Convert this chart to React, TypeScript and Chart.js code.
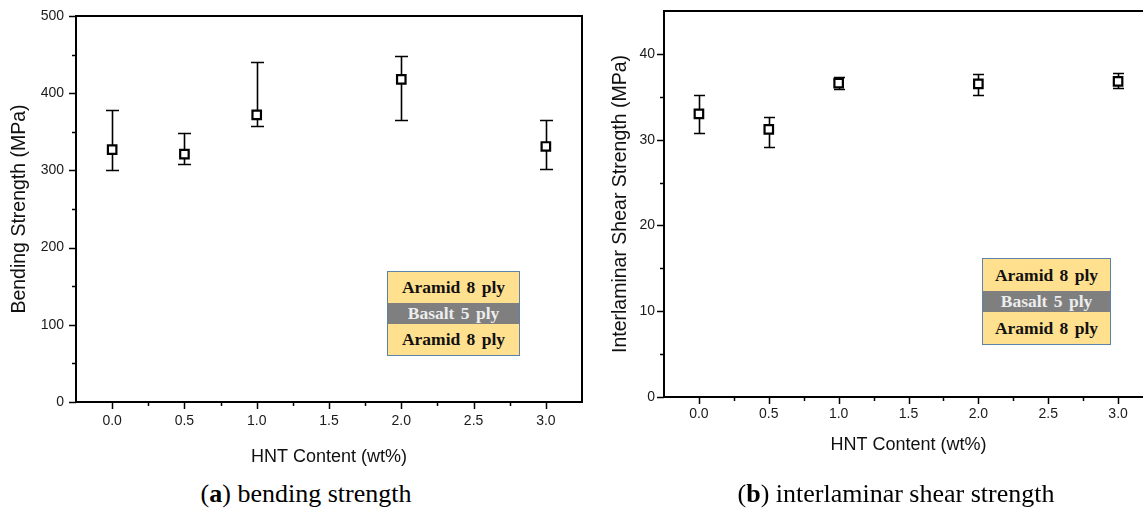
import React, { useEffect, useRef } from "react";
import { Chart, registerables } from "chart.js";

Chart.register(...registerables);

// ---------- data ----------
const hntContent = [0, 0.5, 1.0, 2.0, 3.0];

const bendingMean = [327, 321, 372, 418, 331];
const bendingUpper = [378, 349, 440, 448, 365];
const bendingLower = [300, 308, 358, 365, 302];

const ilssMean = [33.0, 31.2, 36.6, 36.5, 36.8];
const ilssUpper = [35.2, 32.7, 37.3, 37.7, 37.8];
const ilssLower = [30.8, 29.2, 35.9, 35.2, 36.0];

const xMajorLabels = ["0.0", "0.5", "1.0", "1.5", "2.0", "2.5", "3.0"];
const bendingMajorLabels = ["0", "100", "200", "300", "400", "500"];
const ilssMajorLabels = ["0", "10", "20", "30", "40"];

const xTitle = "HNT Content (wt%)";
const bendingTitle = "Bending Strength (MPa)";
const ilssTitle = "Interlaminar Shear Strength (MPa)";
const captionA = "bending strength";
const captionB = "interlaminar shear strength";
const layerTop = "Aramid 8 ply";
const layerMid = "Basalt 5 ply";
const layerBottom = "Aramid 8 ply";

const SANS = "'Liberation Sans', Arial, sans-serif";
const SERIF = "'Liberation Serif', 'Times New Roman', serif";

function steps(min: number, max: number, step: number) {
  const out: number[] = [];
  const n = Math.round((max - min) / step);
  for (let i = 0; i <= n; i++) out.push(Math.round((min + i * step) * 1000) / 1000);
  return out;
}

function labelFor(value: number, labels: string[]) {
  const v = Math.round(value * 1000) / 1000;
  const hit = labels.find((l) => Math.abs(parseFloat(l) - v) < 1e-6);
  return hit === undefined ? "" : hit;
}

type Cfg = {
  means: number[];
  lower: number[];
  upper: number[];
  yMin: number;
  yMax: number;
  yStep: number;
  yLabels: string[];
  yTitle: string;
  padding: { top: number; right: number; left: number; bottom: number };
  yWidth: number;
  xHeight: number;
  yTitlePad: number;
  xTitlePad: number;
  xTickPad: number;
  yTickPad: number;
  capHalf: number;
  drawRight: boolean;
};

function makePlugin(cfg: Cfg) {
  return {
    id: "errorsAndFrame",
    beforeDatasetsDraw(chart: any) {
      const { ctx, scales } = chart;
      const xs = scales.x;
      const ys = scales.y;
      ctx.save();
      ctx.strokeStyle = "#000";
      ctx.lineWidth = 1.6;
      hntContent.forEach((xv, i) => {
        const px = Math.round(xs.getPixelForValue(xv)) + 0.5;
        const pt = Math.round(ys.getPixelForValue(cfg.upper[i])) + 0.5;
        const pb = Math.round(ys.getPixelForValue(cfg.lower[i])) + 0.5;
        ctx.beginPath();
        ctx.moveTo(px, pt);
        ctx.lineTo(px, pb);
        ctx.moveTo(px - cfg.capHalf, pt);
        ctx.lineTo(px + cfg.capHalf, pt);
        ctx.moveTo(px - cfg.capHalf, pb);
        ctx.lineTo(px + cfg.capHalf, pb);
        ctx.stroke();
      });
      ctx.restore();
    },
    afterDraw(chart: any) {
      const { ctx, chartArea, scales } = chart;
      const { left, right, top, bottom } = chartArea;
      ctx.save();
      ctx.strokeStyle = "#000";
      ctx.lineWidth = 2;
      // frame
      ctx.beginPath();
      ctx.moveTo(left, bottom);
      ctx.lineTo(left, top);
      ctx.lineTo(right, top);
      if (cfg.drawRight) ctx.lineTo(right, bottom);
      ctx.lineTo(left, bottom);
      ctx.stroke();
      // ticks (major 7px, minor 4px), pointing outwards
      ctx.lineWidth = 1.5;
      scales.x.ticks.forEach((t: any) => {
        const major = labelFor(t.value, xMajorLabels) !== "";
        const px = Math.round(scales.x.getPixelForValue(t.value)) + 0.5;
        if (px <= left + 1 || px >= right - 1) return;
        ctx.beginPath();
        ctx.moveTo(px, bottom);
        ctx.lineTo(px, bottom + (major ? 7 : 4));
        ctx.stroke();
      });
      scales.y.ticks.forEach((t: any) => {
        const major = labelFor(t.value, cfg.yLabels) !== "";
        const py = Math.round(scales.y.getPixelForValue(t.value)) + 0.5;
        if (py <= top + 1 && !major) return;
        ctx.beginPath();
        ctx.moveTo(left, py);
        ctx.lineTo(left - (major ? 7 : 4), py);
        ctx.stroke();
      });
      ctx.restore();
    },
  };
}

function buildConfig(cfg: Cfg): any {
  return {
    type: "scatter",
    data: {
      datasets: [
        {
          data: hntContent.map((x, i) => ({ x, y: cfg.means[i] })),
          pointStyle: "rect",
          pointRadius: 6,
          pointBorderWidth: 2.2,
          pointBorderColor: "#000",
          pointBackgroundColor: "#fff",
          showLine: false,
        },
      ],
    },
    options: {
      responsive: false,
      devicePixelRatio: 1,
      animation: false,
      events: [],
      layout: { padding: cfg.padding },
      plugins: { legend: { display: false }, tooltip: { enabled: false } },
      scales: {
        x: {
          type: "linear",
          min: -0.25,
          max: 3.25,
          afterBuildTicks: (s: any) => {
            s.ticks = steps(-0.25, 3.25, 0.25).map((v) => ({ value: v }));
          },
          afterFit: (s: any) => {
            s.height = cfg.xHeight;
          },
          border: { display: false },
          grid: {
            drawOnChartArea: false,
            drawTicks: true,
            tickLength: 7,
            tickColor: "rgba(0,0,0,0)",
          },
          ticks: {
            autoSkip: false,
            maxRotation: 0,
            padding: cfg.xTickPad,
            color: "#1a1a1a",
            font: { family: SANS, size: 14 },
            callback: (v: number) => labelFor(v, xMajorLabels),
          },
          title: {
            display: true,
            text: xTitle,
            color: "#111",
            font: { family: SANS, size: 18 },
            padding: { top: 0, bottom: cfg.xTitlePad },
          },
        },
        y: {
          type: "linear",
          min: cfg.yMin,
          max: cfg.yMax,
          afterBuildTicks: (s: any) => {
            s.ticks = steps(cfg.yMin, cfg.yMax, cfg.yStep).map((v) => ({ value: v }));
          },
          afterFit: (s: any) => {
            s.width = cfg.yWidth;
          },
          border: { display: false },
          grid: {
            drawOnChartArea: false,
            drawTicks: true,
            tickLength: 7,
            tickColor: "rgba(0,0,0,0)",
          },
          ticks: {
            autoSkip: false,
            padding: cfg.yTickPad,
            color: "#1a1a1a",
            font: { family: SANS, size: 14 },
            callback: (v: number) => labelFor(v, cfg.yLabels),
          },
          title: {
            display: true,
            text: cfg.yTitle,
            color: "#111",
            font: { family: SANS, size: 19.5 },
            padding: { top: cfg.yTitlePad, bottom: 0 },
          },
        },
      },
    },
    plugins: [makePlugin(cfg)],
  };
}

const leftCfg: Cfg = {
  means: bendingMean,
  lower: bendingLower,
  upper: bendingUpper,
  yMin: 0,
  yMax: 500,
  yStep: 50,
  yLabels: bendingMajorLabels,
  yTitle: bendingTitle,
  padding: { top: 16, right: 18, left: 0, bottom: 0 },
  yWidth: 76,
  xHeight: 68,
  yTitlePad: 8,
  xTitlePad: 2,
  xTickPad: 4,
  yTickPad: 5,
  capHalf: 6.5,
  drawRight: true,
};

const rightCfg: Cfg = {
  means: ilssMean,
  lower: ilssLower,
  upper: ilssUpper,
  yMin: 0,
  yMax: 45,
  yStep: 5,
  yLabels: ilssMajorLabels,
  yTitle: ilssTitle,
  padding: { top: 11, right: 27, left: 0, bottom: 0 },
  yWidth: 84,
  xHeight: 73,
  yTitlePad: 29,
  xTitlePad: 14,
  xTickPad: 2,
  yTickPad: 2,
  capHalf: 5.5,
  drawRight: true,
};

function ChartCanvas({ cfg, left, width, height }: { cfg: Cfg; left: number; width: number; height: number }) {
  const ref = useRef<HTMLCanvasElement | null>(null);
  useEffect(() => {
    if (!ref.current) return;
    const chart = new Chart(ref.current, buildConfig(cfg));
    return () => chart.destroy();
  }, [cfg]);
  return (
    <canvas
      ref={ref}
      width={width}
      height={height}
      style={{ position: "absolute", left, top: 0, width, height }}
    />
  );
}

function LayerBox({ left, top, width, rowH, midH }: { left: number; top: number; width: number; rowH: number; midH: number }) {
  const row = (bg: string, color: string, h: number, text: string) => (
    <div
      style={{
        font: `bold 17.5px ${SERIF}`,
        background: bg,
        color,
        height: h,
        lineHeight: h + "px",
        textAlign: "center",
        overflow: "hidden",
        whiteSpace: "nowrap",
        wordSpacing: 2,
      }}
    >
      {text}
    </div>
  );
  return (
    <div
      style={{
        position: "absolute",
        left,
        top,
        width,
        boxSizing: "border-box",
        border: "1.5px solid #5B84A8",
      }}
    >
      {row("#FFE08E", "#111", rowH, layerTop)}
      {row("#7F7F7F", "#EDEDED", midH, layerMid)}
      {row("#FFE08E", "#111", rowH, layerBottom)}
    </div>
  );
}

function Caption({ cx, letter, text }: { cx: number; letter: string; text: string }) {
  return (
    <div
      style={{
        font: `26px ${SERIF}`,
        position: "absolute",
        left: cx - 250,
        width: 500,
        top: 481,
        textAlign: "center",
        lineHeight: "26px",
        color: "#000",
        whiteSpace: "nowrap",
      }}
    >
      (<b>{letter}</b>) {text}
    </div>
  );
}

export default function App() {
  return (
    <div
      style={{
        position: "fixed",
        left: 0,
        top: 0,
        width: 1143,
        height: 508,
        overflow: "hidden",
        background: "#fff",
      }}
    >
      <ChartCanvas cfg={leftCfg} left={0} width={600} height={470} />
      <ChartCanvas cfg={rightCfg} left={580} width={600} height={470} />
      <LayerBox left={387} top={271} width={133} rowH={31} midH={21} />
      <LayerBox left={982} top={258} width={129} rowH={32} midH={21} />
      <Caption cx={306} letter="a" text={captionA} />
      <Caption cx={896} letter="b" text={captionB} />
    </div>
  );
}
